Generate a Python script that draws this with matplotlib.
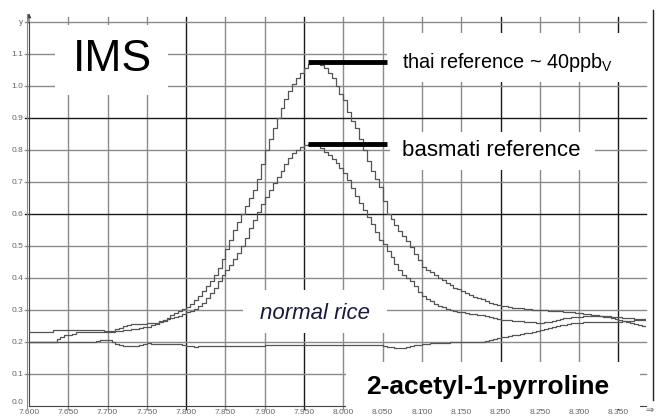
import numpy as np
import matplotlib
matplotlib.use("Agg")
import matplotlib.pyplot as plt
from matplotlib.patches import Rectangle
from matplotlib.lines import Line2D

plt.rcParams['font.family'] = ['Liberation Sans', 'DejaVu Sans']
plt.rcParams['mathtext.fontset'] = 'custom'
plt.rcParams['mathtext.rm'] = 'Liberation Sans'

# drift time grid, one reading every 0.005
drift = np.round(7.6 + 0.005 * np.arange(160), 3)

thai = [
    0.232, 0.232, 0.232, 0.232, 0.232, 0.232, 0.237, 0.237, 0.237, 0.237,
    0.237, 0.237, 0.237, 0.237, 0.237, 0.237, 0.237, 0.237, 0.237, 0.233,
    0.233, 0.233, 0.240, 0.245, 0.250, 0.253, 0.255, 0.255, 0.255, 0.255,
    0.258, 0.260, 0.260, 0.265, 0.270, 0.276, 0.283, 0.290, 0.296, 0.303,
    0.310, 0.320, 0.332, 0.345, 0.360, 0.375, 0.390, 0.410, 0.430, 0.460,
    0.490, 0.520, 0.550, 0.575, 0.600, 0.625, 0.650, 0.675, 0.710, 0.755,
    0.800, 0.835, 0.870, 0.900, 0.930, 0.960, 0.985, 1.005, 1.025, 1.040,
    1.055, 1.070, 1.075, 1.072, 1.065, 1.055, 1.040, 1.025, 1.000, 0.975,
    0.955, 0.920, 0.890, 0.870, 0.835, 0.800, 0.765, 0.735, 0.710, 0.685,
    0.640, 0.600, 0.585, 0.565, 0.548, 0.530, 0.515, 0.497, 0.475, 0.455,
    0.435, 0.425, 0.420, 0.410, 0.400, 0.395, 0.385, 0.378, 0.370, 0.365,
    0.360, 0.353, 0.347, 0.342, 0.338, 0.333, 0.328, 0.323, 0.319, 0.316,
    0.313, 0.311, 0.309, 0.307, 0.306, 0.305, 0.303, 0.302, 0.301, 0.300,
    0.300, 0.299, 0.298, 0.297, 0.297, 0.296, 0.295, 0.294, 0.293, 0.292,
    0.291, 0.289, 0.287, 0.285, 0.283, 0.281, 0.279, 0.278, 0.275, 0.272,
    0.270, 0.267, 0.263, 0.260, 0.256, 0.253, 0.250, 0.248, 0.247, 0.247,
]

basmati = [
    0.200, 0.200, 0.200, 0.200, 0.200, 0.200, 0.200, 0.210, 0.216, 0.222,
    0.222, 0.226, 0.230, 0.230, 0.230, 0.230, 0.230, 0.230, 0.230, 0.232,
    0.232, 0.232, 0.233, 0.234, 0.236, 0.238, 0.240, 0.242, 0.244, 0.246,
    0.248, 0.252, 0.257, 0.262, 0.267, 0.272, 0.274, 0.277, 0.282, 0.288,
    0.293, 0.298, 0.304, 0.312, 0.322, 0.336, 0.352, 0.370, 0.390, 0.410,
    0.425, 0.440, 0.460, 0.478, 0.500, 0.525, 0.555, 0.580, 0.605, 0.630,
    0.653, 0.675, 0.697, 0.716, 0.735, 0.755, 0.775, 0.790, 0.800, 0.810,
    0.815, 0.820, 0.820, 0.815, 0.805, 0.795, 0.785, 0.772, 0.760, 0.745,
    0.728, 0.705, 0.680, 0.655, 0.633, 0.612, 0.590, 0.570, 0.545, 0.520,
    0.505, 0.485, 0.465, 0.445, 0.425, 0.410, 0.400, 0.390, 0.375, 0.355,
    0.343, 0.335, 0.328, 0.320, 0.313, 0.308, 0.304, 0.300, 0.297, 0.295,
    0.293, 0.291, 0.289, 0.287, 0.285, 0.283, 0.280, 0.277, 0.275, 0.272,
    0.270, 0.269, 0.268, 0.267, 0.266, 0.265, 0.264, 0.262, 0.261, 0.260,
    0.260, 0.261, 0.262, 0.265, 0.268, 0.272, 0.274, 0.276, 0.277, 0.278,
    0.279, 0.280, 0.280, 0.281, 0.281, 0.281, 0.280, 0.280, 0.279, 0.278,
    0.277, 0.276, 0.275, 0.274, 0.273, 0.272, 0.272, 0.272, 0.272, 0.272,
]

normal = [
    0.200, 0.200, 0.200, 0.200, 0.200, 0.200, 0.200, 0.200, 0.200, 0.200,
    0.200, 0.200, 0.200, 0.200, 0.200, 0.200, 0.200, 0.204, 0.207, 0.207,
    0.205, 0.200, 0.195, 0.190, 0.188, 0.188, 0.188, 0.189, 0.190, 0.193,
    0.196, 0.195, 0.195, 0.195, 0.195, 0.195, 0.195, 0.195, 0.195, 0.190,
    0.188, 0.186, 0.185, 0.187, 0.188, 0.188, 0.188, 0.188, 0.188, 0.188,
    0.188, 0.188, 0.188, 0.188, 0.188, 0.189, 0.189, 0.189, 0.189, 0.189,
    0.190, 0.190, 0.190, 0.190, 0.190, 0.190, 0.190, 0.190, 0.190, 0.190,
    0.190, 0.190, 0.190, 0.190, 0.190, 0.190, 0.190, 0.190, 0.190, 0.190,
    0.190, 0.190, 0.190, 0.190, 0.190, 0.190, 0.190, 0.190, 0.190, 0.190,
    0.188, 0.185, 0.183, 0.182, 0.181, 0.182, 0.184, 0.187, 0.190, 0.192,
    0.194, 0.195, 0.196, 0.197, 0.198, 0.198, 0.198, 0.199, 0.199, 0.199,
    0.200, 0.200, 0.200, 0.200, 0.200, 0.200, 0.203, 0.206, 0.209, 0.212,
    0.215, 0.217, 0.219, 0.221, 0.223, 0.225, 0.227, 0.229, 0.231, 0.233,
    0.236, 0.241, 0.245, 0.248, 0.250, 0.252, 0.254, 0.256, 0.258, 0.259,
    0.260, 0.261, 0.261, 0.261, 0.261, 0.261, 0.261, 0.261, 0.261, 0.262,
    0.263, 0.265, 0.266, 0.267, 0.268, 0.269, 0.270, 0.270, 0.270, 0.270,
]

x_ticks = [7.60, 7.65, 7.70, 7.75, 7.80, 7.85, 7.90, 7.95, 8.00,
           8.05, 8.10, 8.15, 8.20, 8.25, 8.30, 8.35]
x_labels = ['7.600', '7.650', '7.700', '7.750', '7.800', '7.850', '7.900', '7.950',
            '8.000', '8.050', '8.100', '8.150', '8.200', '8.250', '8.300', '8.350']
y_ticks = [0.0, 0.1, 0.2, 0.3, 0.4, 0.5, 0.6, 0.7, 0.8, 0.9, 1.0, 1.1, 1.2]
y_labels = ['0.0', '0.1', '0.2', '0.3', '0.4', '0.5', '0.6', '0.7', '0.8',
            '0.9', '1.0', '1.1', 'y']

fig = plt.figure(figsize=(6.56, 4.18), dpi=100)
ax = fig.add_axes([29 / 656, 12 / 418, 617 / 656, 384 / 418])
ax.set_xlim(7.6, 8.385)
ax.set_ylim(0, 1.2)

# grid (a few lines come out darker in the original)
dark_x = [7.80, 7.95, 8.20, 8.35]
dark_y = [0.6, 0.9]
for xv in x_ticks[1:]:
    c = '#1a1a1a' if xv in dark_x else '#8a8a8a'
    ax.plot([xv, xv], [-0.01, 1.215], color=c, lw=1.0, zorder=1, clip_on=False)
for yv in y_ticks[1:]:
    c = '#1a1a1a' if yv in dark_y else '#8a8a8a'
    ax.plot([7.595, 8.385], [yv, yv], color=c, lw=1.0, zorder=1, clip_on=False)

# white label boxes over the grid
boxes = [(7.633, 0.972, 0.144, 0.218),
         (8.056, 1.012, 0.34, 0.154),
         (8.059, 0.737, 0.261, 0.119),
         (7.872, 0.228, 0.183, 0.135),
         (8.003, -0.01, 0.374, 0.148)]
for bx, by, bw, bh in boxes:
    ax.add_patch(Rectangle((bx, by), bw, bh, facecolor='white', edgecolor='none',
                           zorder=3, clip_on=False))

for ys in (thai, basmati, normal):
    ax.plot(drift, ys, drawstyle='steps-post', color='#555555', lw=0.9, zorder=4)

# peak markers
ax.plot([7.955, 8.055], [max(thai), max(thai)], color='black', lw=3.5,
        solid_capstyle='butt', zorder=5)
ax.plot([7.955, 8.055], [max(basmati), max(basmati)], color='black', lw=3.5,
        solid_capstyle='butt', zorder=5)

ax.text(7.7056, 1.084, 'IMS', fontsize=32, ha='center', va='center', zorder=6)
ax.text(8.0745, 1.075, r'thai reference ~ 40ppb$_\mathrm{V}$', fontsize=14.3,
        ha='left', va='center', zorder=6)
ax.text(8.0745, 0.80, 'basmati reference', fontsize=16, ha='left', va='center', zorder=6)
ax.text(7.964, 0.29, 'normal rice', fontsize=16, style='italic', ha='center',
        va='center', color='#1a1a40', zorder=6)
ax.text(8.184, 0.058, '2-acetyl-1-pyrroline', fontsize=19, fontweight='bold',
        ha='center', va='center', zorder=6)

ax.set_xticks(x_ticks)
ax.set_xticklabels(x_labels)
ax.set_yticks(y_ticks)
ax.set_yticklabels(y_labels)
ax.tick_params(axis='both', length=0, labelsize=6, labelcolor='#666666')
ax.tick_params(axis='x', pad=2)
ax.tick_params(axis='y', pad=4)
ax.get_yticklabels()[0].set_va('bottom')

for s in ['top', 'right']:
    ax.spines[s].set_visible(False)
ax.spines['left'].set_color('#444444')
ax.spines['bottom'].set_color('#444444')
ax.spines['left'].set_zorder(2)
ax.spines['bottom'].set_zorder(2)
ax.annotate('', xy=(0, 1.03), xytext=(0, 0.99), xycoords='axes fraction',
            arrowprops=dict(arrowstyle='-|>', color='#444444', lw=0.8,
                            mutation_scale=6))
# second axis line and right border as in the screenshot
fig.add_artist(Line2D([26.5 / 656, 26.5 / 656], [1 - 408 / 418, 1 - 14 / 418],
                      color='#888888', lw=0.8))
fig.add_artist(Line2D([652.5 / 656, 652.5 / 656], [1 - 400 / 418, 1 - 10 / 418],
                      color='#222222', lw=1.0))
fig.text(649 / 656, 1 - 410 / 418, '⇒', fontsize=7, color='#666666',
         ha='center', va='center', family=['DejaVu Sans'])

fig.savefig('out.png', dpi=100)
